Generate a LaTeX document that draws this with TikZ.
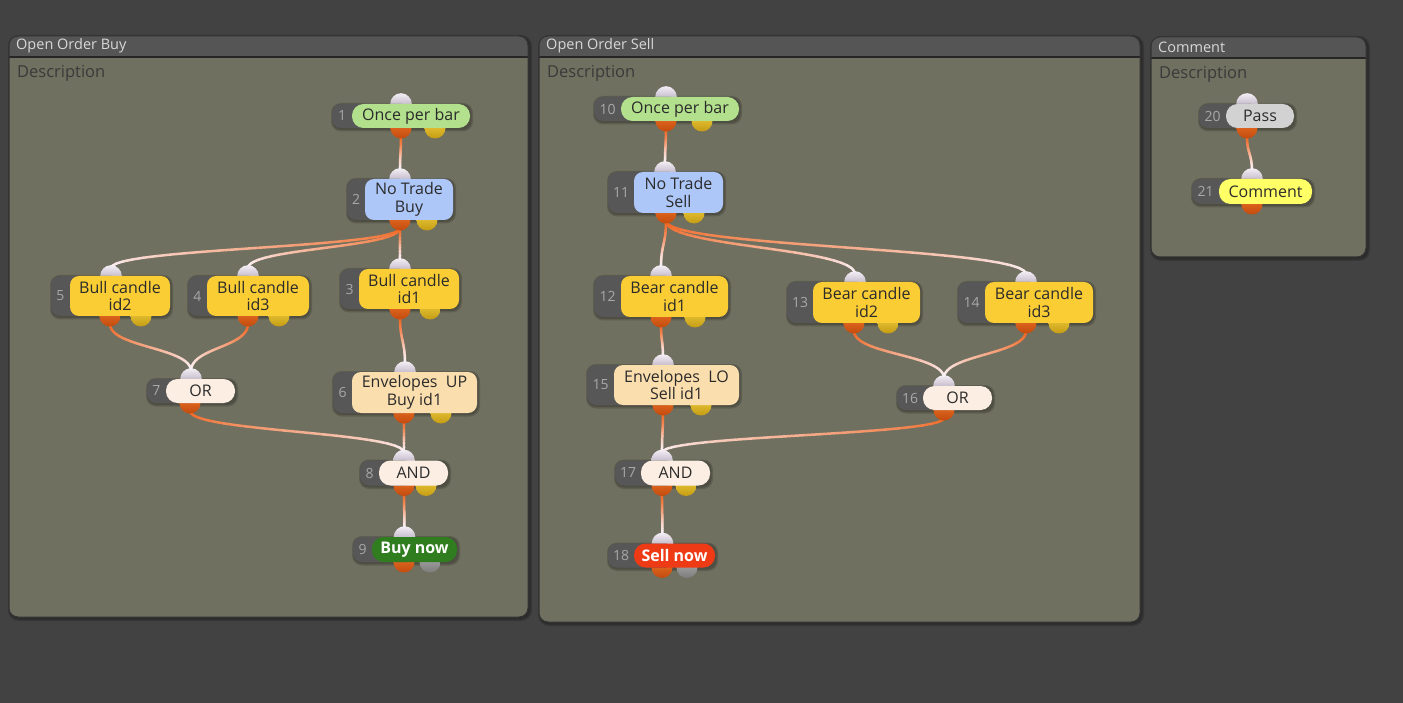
\documentclass[tikz,border=0pt]{standalone}
\usepackage{fontspec}
\setmainfont{Open Sans}
\usetikzlibrary{calc}
\definecolor{bgc}{HTML}{424242}
\definecolor{panelc}{HTML}{707060}
\definecolor{titlec}{HTML}{555555}
\definecolor{titletxtc}{HTML}{D8D8D8}
\definecolor{desctxtc}{HTML}{3A3A3A}
\definecolor{tabc}{HTML}{575757}
\definecolor{numc}{HTML}{A8A8A8}
\definecolor{txtc}{HTML}{2B2B2B}
\definecolor{cgreen}{HTML}{B3E08C}
\definecolor{cblue}{HTML}{AEC7F9}
\definecolor{cyellow}{HTML}{FACD35}
\definecolor{clogic}{HTML}{FCEEE2}
\definecolor{cenv}{HTML}{FBDEAE}
\definecolor{cbuy}{HTML}{2F7D1F}
\definecolor{csell}{HTML}{EE3B16}
\definecolor{cpass}{HTML}{D2D2D2}
\definecolor{ccomment}{HTML}{FFFF66}
\definecolor{wireor}{HTML}{F06520}
\definecolor{wirelt}{HTML}{FAF0F4}
\definecolor{kinA}{HTML}{F4EEF6}
\definecolor{kinB}{HTML}{9A8FA2}
\definecolor{koA}{HTML}{F27A2A}
\definecolor{koB}{HTML}{C24A0E}
\definecolor{kyA}{HTML}{F6D444}
\definecolor{kyB}{HTML}{C49C14}
\definecolor{kgA}{HTML}{B4B4B4}
\definecolor{kgB}{HTML}{7C7C7C}
\newdimen\wxa \newdimen\wya \newdimen\wxb \newdimen\wyb
\tikzset{
  panelbox/.style={fill=panelc, inner sep=0pt, outer sep=0pt, rounded corners=9pt},
  titletxt/.style={text=titletxtc, inner sep=0pt, font=\fontsize{14.5}{16}\selectfont},
  desctxt/.style={text=desctxtc, inner sep=0pt, font=\fontsize{16.5}{18}\selectfont},
  lbl/.style={inner sep=0pt, outer sep=0pt, text=txtc, align=center,
    font=\fontsize{16}{17.5}\selectfont},
  pill/.style={rounded corners=11.5pt},
  box/.style={rounded corners=9pt},
  boldtxt/.style={text=white, font=\fontsize{16}{17.5}\selectfont\bfseries},
  numlbl/.style={inner sep=0pt, text=numc, font=\fontsize{14}{14}\selectfont},
  knobin/.style={top color=kinA, bottom color=kinB},
  knobo/.style={top color=koA, bottom color=koB},
  knoby/.style={top color=kyA, bottom color=kyB},
  knobg/.style={top color=kgA, bottom color=kgB},
  wireseg/.style={line width=2.5pt, line cap=round},
}
\newcommand\panel[6]{%
  \pgfmathsetmacro\pW{#4-#2}\pgfmathsetmacro\pH{#5-#3}%
  \pgfmathsetmacro\pX{(#2+#4)/2}\pgfmathsetmacro\pY{(#3+#5)/2}%
  \fill[black, opacity=0.18, rounded corners=11pt] (#2-1,#3-1) rectangle (#4+4,#5+4);
  \fill[black, opacity=0.18, rounded corners=10pt] (#2,#3) rectangle (#4+2.5,#5+2.5);
  \node[panelbox, minimum width=\pW pt, minimum height=\pH pt] (#1) at (\pX,\pY) {};
  \begin{scope}
    \clip[rounded corners=9pt] (#1.north west) rectangle (#1.south east);
    \fill[titlec] (#1.north west) rectangle ([yshift=-21pt]#1.north east);
    \draw[black!85, line width=1.2pt] ([yshift=-21pt]#1.north west) -- ([yshift=-21pt]#1.north east);
  \end{scope}
  \draw[rounded corners=9pt, draw=black!80, line width=1pt] (#1.north west) rectangle (#1.south east);
  \node[titletxt, anchor=west] (#1-title) at (#2+7, #3+10) {#6};
  \node[desctxt, anchor=west] (#1-desc) at (#2+8, #3+37) {Description};
}
% geometry helper
\newcommand\geom[4]{% cx cy w h
  \pgfmathsetmacro\nTop{#2-#4/2}\pgfmathsetmacro\nBot{#2+#4/2}%
  \xdef\curtop{\nTop}\xdef\curbot{\nBot}}
% pass definitions
\newcommand\passShadow{%
  \def\N##1##2##3##4##5##6##7##8##9{%
    \geom{##3}{##4}{##5}{##6}%
    \pgfmathsetmacro\nLft{##3-##5/2-##7}\pgfmathsetmacro\nRgt{##3+##5/2}%
    \fill[black, opacity=0.16, rounded corners=10pt] (\nLft-1,\curtop-1) rectangle (\nRgt+3,\curbot+3.5);
    \fill[black, opacity=0.16, rounded corners=9pt] (\nLft,\curtop) rectangle (\nRgt+1.5,\curbot+2);}%
  \def\K##1##2##3##4##5{%
    \coordinate (##1-in) at (##2,\curtop-8);
    \coordinate (##1-out) at (##3,\curbot+8);}}
\newcommand\passKnob{%
  \def\N##1##2##3##4##5##6##7##8##9{\geom{##3}{##4}{##5}{##6}}%
  \def\K##1##2##3##4##5{%
    \shade[knobin] (##2,\curtop) circle[radius=10.8pt];
    \shade[knobo] (##3,\curbot) circle[radius=10.5pt];
    \ifx\relax##4\relax\else\shade[##5] (##4,\curbot) circle[radius=10.5pt];\fi}}
\newcommand\passNode{%
  \def\N##1##2##3##4##5##6##7##8##9{%
    \pgfmathsetmacro\nLft{##3-##5/2-##7}%
    \pgfmathsetmacro\nTop{##4-##6/2}\pgfmathsetmacro\nBot{##4+##6/2}%
    \pgfmathsetmacro\nNum{##3-##5/2-##7/2}%
    \fill[tabc, rounded corners=9pt] (\nLft,\nTop) rectangle (##3,\nBot);
    \node[numlbl] (##1-num) at (\nNum,##4) {##2};
    \node[lbl,##8,minimum width=##5 pt, minimum height=##6 pt] (##1) at (##3,##4) {##9};}%
  \def\K##1##2##3##4##5{}}
% point on the connector curve at time #1 -> \bx, \by (canvas pt)
\newcommand\bez[1]{%
  \pgfmathsetmacro\bu{1-#1}%
  \pgfmathsetmacro\bx{\xA*(\bu*\bu*\bu+3*\bu*\bu*#1)+\xB*(3*\bu*#1*#1+#1*#1*#1)}%
  \pgfmathsetmacro\by{\yA*\bu*\bu*\bu+\yM*3*\bu*#1*(\bu+#1)+\yB*#1*#1*#1}}
% connector from (a-out) to (b-in), coloured from orange to light
\newcommand\wire[2]{%
  \pgfextractx{\wxa}{\pgfpointanchor{#1-out}{center}}%
  \pgfextracty{\wya}{\pgfpointanchor{#1-out}{center}}%
  \pgfextractx{\wxb}{\pgfpointanchor{#2-in}{center}}%
  \pgfextracty{\wyb}{\pgfpointanchor{#2-in}{center}}%
  \pgfmathsetmacro\xA{\wxa}\pgfmathsetmacro\yA{\wya}%
  \pgfmathsetmacro\xB{\wxb}\pgfmathsetmacro\yB{\wyb}%
  \pgfmathsetmacro\yM{(\yA+\yB)/2}%
  \foreach \k in {0,...,23}{%
    \pgfmathsetmacro\ta{\k/24}\bez{\ta}\let\sxa\bx\let\sya\by
    \pgfmathsetmacro\tb{(\k+1)/24}\bez{\tb}%
    \pgfmathtruncatemacro\pc{100-\k*100/23}%
    \draw[wireseg, draw=wireor!\pc!wirelt] (\sxa pt,\sya pt) -- (\bx pt,\by pt);
  }%
}
\newcommand\allnodes{%
% Open Order Buy
\N{n1}{1}{411}{116}{118}{24}{20}{pill,fill=cgreen}{Once per bar}
\K{n1}{401}{401}{435}{knoby}
\N{n2}{2}{409}{199.5}{88}{41}{18}{box,fill=cblue}{No Trade\\Buy}
\K{n2}{400}{400}{427}{knoby}
\N{n5}{5}{120}{296}{100}{40}{19}{box,fill=cyellow}{Bull candle\\id2}
\K{n5}{111}{110}{141}{knoby}
\N{n4}{4}{258}{296}{102}{40}{19}{box,fill=cyellow}{Bull candle\\id3}
\K{n4}{248}{248}{279}{knoby}
\N{n3}{3}{409}{289}{100}{40}{19}{box,fill=cyellow}{Bull candle\\id1}
\K{n3}{400}{400}{430}{knoby}
\N{n7}{7}{200.5}{391}{69}{24}{19}{pill,fill=clogic}{OR}
\K{n7}{191}{190}{}{}
\N{n6}{6}{414.5}{392.5}{125}{41}{19}{box,fill=cenv}{Envelopes~~UP\\Buy id1}
\K{n6}{405}{404}{441}{knoby}
\N{n8}{8}{413.5}{473}{69}{25}{19}{pill,fill=clogic}{AND}
\K{n8}{404}{404}{426}{knoby}
\N{n9}{9}{414.5}{549.5}{85}{25}{19}{pill,fill=cbuy,boldtxt}{Buy now}
\K{n9}{404.5}{404}{430}{knobg}
% Open Order Sell
\N{n10}{10}{680}{109}{118}{24}{27}{pill,fill=cgreen}{Once per bar}
\K{n10}{666}{666}{702}{knoby}
\N{n11}{11}{678.5}{192.5}{89}{41}{26}{box,fill=cblue}{No Trade\\Sell}
\K{n11}{665}{666}{694}{knoby}
\N{n12}{12}{674.5}{296.5}{107}{41}{27}{box,fill=cyellow}{Bear candle\\id1}
\K{n12}{661}{661}{695}{knoby}
\N{n13}{13}{866.5}{302.5}{107}{41}{26}{box,fill=cyellow}{Bear candle\\id2}
\K{n13}{855}{854}{888}{knoby}
\N{n14}{14}{1039}{302.5}{108}{41}{27}{box,fill=cyellow}{Bear candle\\id3}
\K{n14}{1026}{1026}{1059}{knoby}
\N{n15}{15}{676.5}{385}{125}{40}{27}{box,fill=cenv}{Envelopes~~LO\\Sell id1}
\K{n15}{663}{663}{701}{knoby}
\N{n16}{16}{957.5}{398}{69}{24}{26}{pill,fill=clogic}{OR}
\K{n16}{944}{944}{}{}
\N{n17}{17}{675.5}{473}{69}{25}{26}{pill,fill=clogic}{AND}
\K{n17}{662}{662}{686}{knoby}
\N{n18}{18}{674.5}{555.5}{81}{24}{26}{pill,fill=csell,boldtxt}{Sell now}
\K{n18}{662.5}{662}{687}{knobg}
% Comment
\N{n20}{20}{1260}{116}{68}{24}{27}{pill,fill=cpass}{Pass}
\K{n20}{1247}{1247}{}{}
\N{n21}{21}{1265.5}{191.5}{93}{25}{27}{pill,fill=ccomment}{Comment}
\K{n21}{1252}{1252}{}{}
}
\begin{document}
\begin{tikzpicture}[x=1pt, y=-1pt]
\useasboundingbox (0,0) rectangle (1403,703);
\fill[bgc] (0,0) rectangle (1403,703);

\panel{p1}{9}{36}{528}{617}{Open Order Buy}
\panel{p2}{539}{36}{1140}{622}{Open Order Sell}
\panel{p3}{1151}{37}{1366}{257}{Comment}

\passShadow\allnodes

% connectors
\wire{n1}{n2}
\wire{n2}{n5}
\wire{n2}{n4}
\wire{n2}{n3}
\wire{n5}{n7}
\wire{n4}{n7}
\wire{n3}{n6}
\wire{n7}{n8}
\wire{n6}{n8}
\wire{n8}{n9}
\wire{n10}{n11}
\wire{n11}{n12}
\wire{n11}{n13}
\wire{n11}{n14}
\wire{n12}{n15}
\wire{n13}{n16}
\wire{n14}{n16}
\wire{n15}{n17}
\wire{n16}{n17}
\wire{n17}{n18}
\wire{n20}{n21}

\passKnob\allnodes
\passNode\allnodes
\end{tikzpicture}
\end{document}
